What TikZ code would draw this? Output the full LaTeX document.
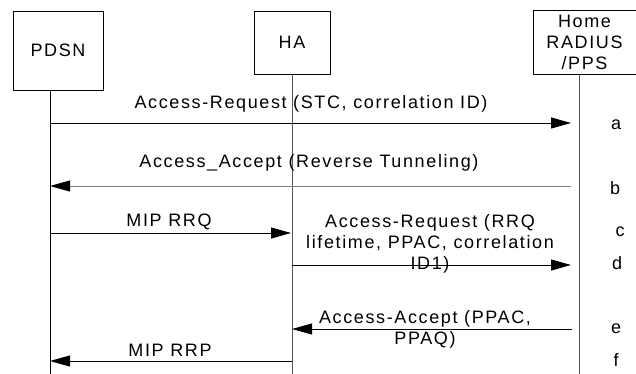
\documentclass[tikz,border=0pt]{standalone}
\usepackage{fontspec}
\setmainfont{Liberation Sans}[LetterSpace=9]
\usepackage{tikz}
\usetikzlibrary{arrows.meta}

\begin{document}
\begin{tikzpicture}[x=1pt, y=-1pt,
    ent/.style={draw, line width=0.8pt, inner sep=0pt, align=center, font=\fontsize{18}{21}\selectfont},
    lbl/.style={align=center, inner sep=0pt, font=\fontsize{18}{21}\selectfont},
    life/.style={line width=0.9pt},
    msg/.style={line width=0.9pt, -{Triangle[length=20pt, width=11pt, color=black]}}]
    \useasboundingbox (0,0) rectangle (636,374);

    % entities on top
    \node[ent, minimum width=90pt, minimum height=79pt] (pdsn) at (58,50.5) {PDSN};
    \node[ent, minimum width=76pt, minimum height=63pt] (ha) at (292,42.5) {HA};
    \node[ent, minimum width=103pt, minimum height=64pt] (home) at (584.5,42) {Home\\RADIUS\\/PPS};

    % lifelines
    \coordinate (pdsnB) at (50,374);
    \coordinate (haB) at (292,374);
    \coordinate (homeB) at (579,374);
    \draw[life] (pdsn.south -| pdsnB) -- (pdsnB);
    \draw[life, black!65] (ha.south -| haB) -- (haB);
    \draw[life, black!65] (home.south -| homeB) -- (homeB);

    % a
    \coordinate (a1) at (50,123);
    \coordinate (a2) at (571,123);
    \node[lbl] (la) at (311,104) {Access-Request (STC, correlation ID)};
    \draw[msg] (a1) -- (a2);

    % b
    \coordinate (b1) at (571,186);
    \coordinate (b2) at (50,186);
    \node[lbl] (lb) at (309,163) {Access\_Accept (Reverse Tunneling)};
    \draw[msg, black!50] (b1) -- (b2);

    % c
    \coordinate (c1) at (50,233);
    \coordinate (c2) at (291,233);
    \node[lbl] (lc) at (169,222) {MIP RRQ};
    \draw[msg] (c1) -- (c2);

    % d
    \coordinate (d1) at (292,265);
    \coordinate (d2) at (571,265);
    \node[lbl] (ld) at (430,243.5) {Access-Request (RRQ\\lifetime, PPAC, correlation\\ID1)};
    \draw[msg] (d1) -- (d2);

    % e
    \coordinate (e1) at (572,329);
    \coordinate (e2) at (292,329);
    \node[lbl] (le) at (425,329) {Access-Accept (PPAC,\\PPAQ)};
    \draw[msg] (e1) -- (e2);

    % f
    \coordinate (f1) at (292,361);
    \coordinate (f2) at (50,361);
    \node[lbl] (lf) at (170,350) {MIP RRP};
    \draw[msg] (f1) -- (f2);

    % step letters
    \foreach \t/\x/\y in {a/616/125, b/615/188, c/620/232, d/617/263, e/616/329, f/616/360}
        \node[lbl] (tag-\t) at (\x,\y) {\t};
\end{tikzpicture}
\end{document}
